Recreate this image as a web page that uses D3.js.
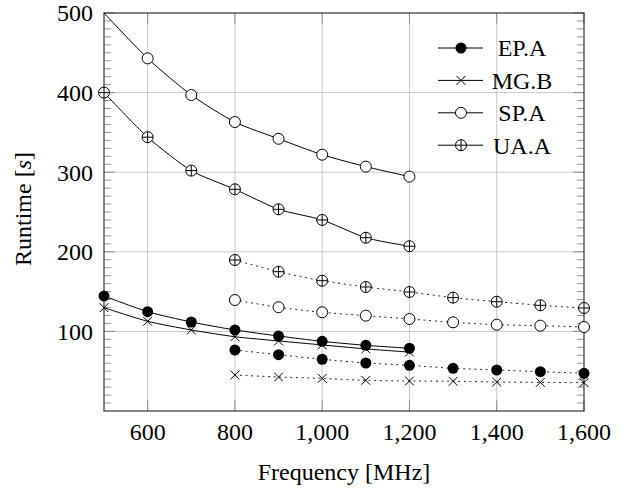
<!DOCTYPE html>
<html><head><meta charset="utf-8">
<script src="https://cdn.jsdelivr.net/npm/d3@7"></script>
<style>body{margin:0;background:#fff}</style>
</head><body>
<script>
const freqLow = [500, 600, 700, 800, 900, 1000, 1100, 1200];
const freqHigh = [800, 900, 1000, 1100, 1200, 1300, 1400, 1500, 1600];
const epA_low  = [144.5, 124.8, 111.8, 101.8, 94.2, 87.5, 82.5, 78.8];
const mgB_low  = [129.8, 112.7, 101.8, 93.3, 88, 83, 78, 74];
const spA_low  = [500, 443, 397, 363, 342, 322, 307, 294.5];
const uaA_low  = [400, 344, 302, 278.5, 253.4, 240, 217.7, 207];
const epA_high = [76.6, 70.7, 65, 60.3, 57.4, 53.6, 51.5, 49.4, 47.4];
const mgB_high = [45.2, 42.7, 41, 38.5, 37.7, 37.3, 36.4, 36, 35.6];
const spA_high = [139.4, 130.3, 124, 119.8, 115.6, 111.4, 108.4, 107.2, 105.5];
const uaA_high = [189.7, 175, 163.7, 155.8, 149.5, 142.4, 137.3, 132.8, 129.4];
const seriesNames = ["EP.A", "MG.B", "SP.A", "UA.A"];
const seriesMarks = ["dot", "cross", "circle", "oplus"];
const xTicks = [600, 800, 1000, 1200, 1400, 1600];
const yTicks = [100, 200, 300, 400, 500];
const xDomain = [500, 1600];
const yDomain = [0, 500];

const W = 631, H = 490;
const m = {l: 104, r: 47, t: 13, b: 79};
const svg = d3.select("body").append("svg").attr("width", W).attr("height", H)
  .attr("font-family", "'Liberation Serif', Tinos, 'Times New Roman', serif");
const x = d3.scaleLinear().domain(xDomain).range([m.l, W - m.r]);
const y = d3.scaleLinear().domain(yDomain).range([H - m.b, m.t]);
const x0 = x.range()[0], x1 = x.range()[1], y0 = y.range()[0], y1 = y.range()[1];

// grid
const g = svg.append("g");
g.selectAll(".gx").data(xTicks.filter(v => v < xDomain[1])).enter().append("line")
  .attr("x1", d => x(d)).attr("x2", d => x(d)).attr("y1", y1).attr("y2", y0)
  .attr("stroke", "#c8c8c8").attr("stroke-width", 1);
g.selectAll(".gy").data(yTicks.filter(v => v < yDomain[1])).enter().append("line")
  .attr("y1", d => y(d)).attr("y2", d => y(d)).attr("x1", x0).attr("x2", x1)
  .attr("stroke", "#c8c8c8").attr("stroke-width", 1);

// ticks (inward)
const tickCol = "#8a8a8a";
const minorY = d3.range(10, 500, 10).filter(v => v % 100 !== 0);
minorY.forEach(v => {
  g.append("line").attr("x1", x0).attr("x2", x0 + 7).attr("y1", y(v)).attr("y2", y(v)).attr("stroke", tickCol).attr("stroke-width", 0.9);
  g.append("line").attr("x1", x1).attr("x2", x1 - 7).attr("y1", y(v)).attr("y2", y(v)).attr("stroke", tickCol).attr("stroke-width", 0.9);
});
yTicks.forEach(v => {
  g.append("line").attr("x1", x0).attr("x2", x0 + 10.5).attr("y1", y(v)).attr("y2", y(v)).attr("stroke", tickCol).attr("stroke-width", 1);
  g.append("line").attr("x1", x1).attr("x2", x1 - 10.5).attr("y1", y(v)).attr("y2", y(v)).attr("stroke", tickCol).attr("stroke-width", 1);
});
xTicks.forEach(v => {
  g.append("line").attr("x1", x(v)).attr("x2", x(v)).attr("y1", y0).attr("y2", y0 - 10.5).attr("stroke", tickCol).attr("stroke-width", 1);
  g.append("line").attr("x1", x(v)).attr("x2", x(v)).attr("y1", y1).attr("y2", y1 + 10.5).attr("stroke", tickCol).attr("stroke-width", 1);
});

// axis box
svg.append("rect").attr("x", x0).attr("y", y1).attr("width", x1 - x0).attr("height", y0 - y1)
  .attr("fill", "none").attr("stroke", "#333").attr("stroke-width", 1.2);

// tick labels
const fmt = d3.format(",");
svg.selectAll(".xl").data(xTicks).enter().append("text")
  .attr("x", d => x(d)).attr("y", 440).attr("text-anchor", "middle").attr("font-size", 24).text(d => fmt(d));
svg.selectAll(".yl").data(yTicks).enter().append("text")
  .attr("x", x0 - 11).attr("y", d => y(d) + 8.3).attr("text-anchor", "end").attr("font-size", 24).text(d => fmt(d));

// axis titles
svg.append("text").attr("x", (x0 + x1) / 2).attr("y", 480).attr("text-anchor", "middle").attr("font-size", 24).text("Frequency [MHz]");
const yl = svg.append("text").attr("transform", "translate(31,209) rotate(-90)").attr("text-anchor", "middle").attr("font-size", 24);
yl.append("tspan").text("Runtime [");
yl.append("tspan").attr("font-style", "italic").text("s");
yl.append("tspan").text("]");

// clip for lines
svg.append("clipPath").attr("id", "clip").append("rect").attr("x", x0).attr("y", y1).attr("width", x1 - x0).attr("height", y0 - y1);

const line = d3.line().x(d => x(d[0])).y(d => y(d[1])).curve(d3.curveCardinal.tension(0.3));

function drawMark(sel, type, cx, cy, r) {
  if (type === "dot") {
    sel.append("circle").attr("cx", cx).attr("cy", cy).attr("r", r).attr("fill", "#000");
  } else if (type === "circle") {
    sel.append("circle").attr("cx", cx).attr("cy", cy).attr("r", r).attr("fill", "#fff").attr("stroke", "#000").attr("stroke-width", 1);
  } else if (type === "oplus") {
    sel.append("circle").attr("cx", cx).attr("cy", cy).attr("r", r).attr("fill", "#fff").attr("stroke", "#000").attr("stroke-width", 1);
    sel.append("path").attr("d", `M${cx - r},${cy}H${cx + r}M${cx},${cy - r}V${cy + r}`).attr("stroke", "#000").attr("stroke-width", 1);
  } else if (type === "cross") {
    const c = r * 0.8;
    sel.append("path").attr("d", `M${cx - c},${cy - c}L${cx + c},${cy + c}M${cx - c},${cy + c}L${cx + c},${cy - c}`).attr("stroke", "#000").attr("stroke-width", 1);
  }
}

const lowSets = [epA_low, mgB_low, spA_low, uaA_low];
const highSets = [epA_high, mgB_high, spA_high, uaA_high];
const plots = [];
lowSets.forEach((vals, i) => plots.push({pts: freqLow.map((f, j) => [f, vals[j]]), mark: seriesMarks[i], dash: null}));
highSets.forEach((vals, i) => plots.push({pts: freqHigh.map((f, j) => [f, vals[j]]), mark: seriesMarks[i], dash: "1,4.6"}));

plots.forEach(p => {
  svg.append("path").attr("d", line(p.pts)).attr("fill", "none").attr("stroke", "#000").attr("stroke-width", 1)
    .attr("stroke-dasharray", p.dash).attr("stroke-linecap", p.dash ? "round" : "butt").attr("clip-path", "url(#clip)");
});
plots.forEach(p => {
  const mg = svg.append("g");
  p.pts.filter(d => d[1] < yDomain[1]).forEach(d => drawMark(mg, p.mark, x(d[0]), y(d[1]), 5.5));
});

// legend
const lg = svg.append("g");
seriesNames.forEach((name, i) => {
  const cy = 48 + i * 32.4;
  lg.append("line").attr("x1", 438).attr("x2", 483).attr("y1", cy).attr("y2", cy).attr("stroke", "#000").attr("stroke-width", 1);
  drawMark(lg, seriesMarks[i], 461, cy, 5.5);
  lg.append("text").attr("x", 522).attr("y", cy + 8.3).attr("text-anchor", "middle").attr("font-size", 24).text(name);
});
</script>
</body></html>
